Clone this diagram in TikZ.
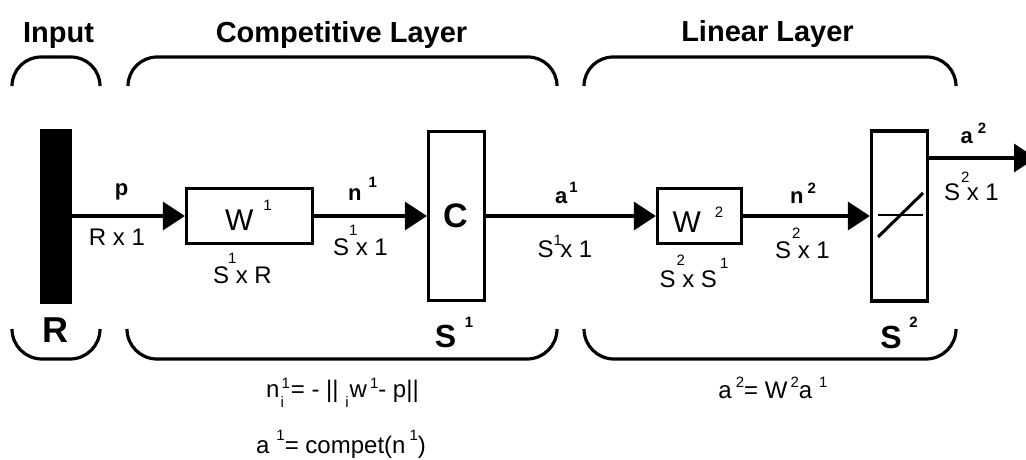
\documentclass[tikz,border=0pt]{standalone}
\usepackage{fontspec}
\setmainfont{Liberation Sans}
\usetikzlibrary{arrows.meta,calc}
\newcommand\fsz[1]{\fontsize{#1}{#1}\selectfont}
\newcommand\up[3]{\kern#1\raisebox{#2}{\normalfont\fsz{15}#3}}
\newcommand\upb[3]{\kern#1\raisebox{#2}{\fsz{15}#3}}
\newcommand\upl[3]{\rlap{\kern#1\raisebox{#2}{\normalfont\fsz{15}#3}}}
\newcommand\bracetop[2]{\draw[brace] (#1,86) .. controls (#1,70) and ({#1+13},57) .. ({#1+29},57) -- ({#2-29},57) .. controls ({#2-13},57) and (#2,70) .. (#2,86);}
\newcommand\bracebot[2]{\draw[brace] (#1,329) .. controls (#1,345.6) and ({#1+13.4},359) .. ({#1+30},359) -- ({#2-30},359) .. controls ({#2-13.4},359) and (#2,345.6) .. (#2,329);}
\begin{document}
\begin{tikzpicture}[x=1pt,y=-1pt,
  lbl/.style={inner sep=0pt, anchor=base},
  title/.style={lbl, font=\fsz{29}\bfseries},
  var/.style={lbl, font=\fsz{22}\bfseries},
  dim/.style={lbl, font=\fsz{24}},
  frm/.style={lbl, font=\fsz{24}},
  box/.style={draw, line width=3.2pt, inner sep=0pt},
  conn/.style={line width=3.4pt, -{Triangle[length=22pt,width=28pt]}},
  brace/.style={line width=3.2pt}
]
\useasboundingbox (0,0) rectangle (1026,459);
% brackets
\bracetop{12}{100}
\bracetop{128}{557}
\bracetop{584}{956}
\bracebot{12}{100}
\bracebot{127}{557}
\bracebot{584}{956}
% titles
\node[title] (tin) at (58.5,42) {Input};
\node[title] (tcomp) at (341.5,42) {Competitive Layer};
\node[title] (tlin) at (767.5,41) {Linear Layer};
% blocks
\node[fill=black, minimum width=32pt, minimum height=175pt, inner sep=0pt] (bar) at (56,216) {};
\node[box, minimum width=126pt, minimum height=55pt] (w1) at (249.5,216) {};
\node[box, minimum width=56pt, minimum height=169pt] (cc) at (456.5,216) {};
\node[box, minimum width=84pt, minimum height=55pt] (w2) at (699.5,216) {};
\node[box, minimum width=56pt, minimum height=170pt] (lin) at (899.5,216) {};
% connectors
\draw[conn] (bar.east) -- (w1.west);
\draw[conn] (w1.east) -- (cc.west);
\draw[conn] (cc.east) -- (w2.west);
\draw[conn] (w2.east) -- (lin.west);
\coordinate (out) at (1036,158);
\draw[conn] (lin.east |- out) -- (out);
% linear transfer symbol
\draw[line width=2pt] ($(lin.center)+(-21.5,-1)$) -- ($(lin.center)+(23.5,-1)$);
\draw[line width=3pt] ($(lin.center)+(-21.5,21)$) -- ($(lin.center)+(23.5,-23)$);
% block texts
\node[lbl, font=\fsz{34}\bfseries] (lC) at (455.5,227) {C};
\node[lbl, font=\fsz{30}] (lW1) at (248.5,230) {W\up{10pt}{20pt}{1}};
\node[lbl, font=\fsz{30}] (lW2) at (698,232) {W\up{14pt}{15pt}{2}};
\node[lbl, font=\fsz{36}\bfseries] (lR) at (55,342) {R};
\node[lbl, font=\fsz{32}\bfseries] (lS1) at (454,347) {S\upb{8.5pt}{20pt}{1}};
\node[lbl, font=\fsz{32}\bfseries] (lS2) at (899,348) {S\upb{7.5pt}{21pt}{2}};
% signal names
\node[var] (lp) at (121.5,195) {p};
\node[var] (ln1) at (362.5,200) {n\upb{7pt}{13pt}{1}};
\node[var] (la1) at (566.5,203) {a\upb{2pt}{11pt}{1}};
\node[var] (ln2) at (803,203) {n\upb{4pt}{10pt}{2}};
\node[var] (la2) at (973.5,143) {a\upb{5pt}{10pt}{2}};
% dimensions
\node[dim] (d1) at (117,245) {R x 1};
\node[dim] (d2) at (242.5,283) {S\upl{-1pt}{20pt}{1} x R};
\node[dim] (d3) at (360.5,255) {S\upl{0pt}{20pt}{1} x 1};
\node[dim] (d4) at (565,257) {S\upl{0pt}{12pt}{1} x 1};
\node[dim] (d5) at (694,287) {S\upl{1pt}{22pt}{2} x S\up{3pt}{19pt}{1}};
\node[dim] (d6) at (802.5,258) {S\upl{1pt}{20pt}{2} x 1};
\node[dim] (d7) at (971.5,200) {S\upl{1pt}{18pt}{2} x 1};
% formulas
\node[frm] (f1) at (342.5,397) {n\rlap{\kern1pt\lower10pt\hbox{\fsz{15}i}}\up{2pt}{9pt}{1}\kern1pt= - || \lower10pt\hbox{\fsz{15}i}\kern1pt w\up{3pt}{9pt}{1}- p||};
\node[frm] (f2) at (341,453) {a\up{7pt}{13pt}{1}= compet(n\up{4pt}{13pt}{1})};
\node[frm] (f3) at (773,398) {a\up{4pt}{11pt}{2}= W\up{3pt}{11pt}{2}a\up{7pt}{11pt}{1}};
\end{tikzpicture}
\end{document}
